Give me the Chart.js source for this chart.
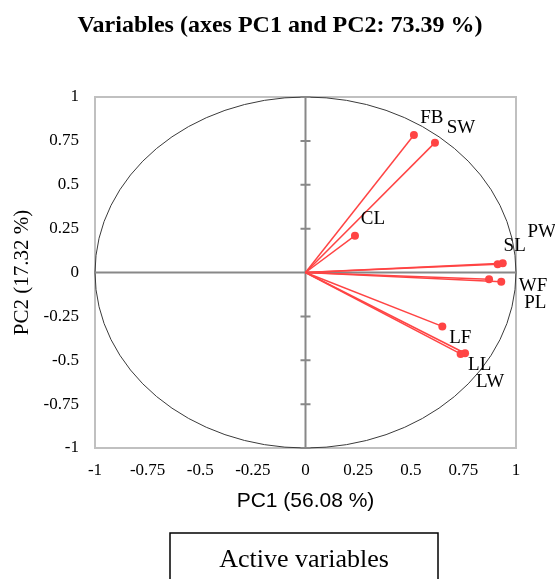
<!DOCTYPE html>
<html>
<head>
<meta charset="utf-8">
<title>Variables (axes PC1 and PC2)</title>
<script src="https://cdn.jsdelivr.net/npm/chart.js@4.4.0/dist/chart.umd.min.js"></script>
<style>
    html, body { margin: 0; padding: 0; background: #fff; }
    #wrap { width: 555px; height: 579px; }
</style>
</head>
<body>
<div id="wrap"><canvas id="pcaChart" width="555" height="579"></canvas></div>
<script>
const varNames = ['FB', 'SW', 'CL', 'SL', 'PW', 'WF', 'PL', 'LF', 'LL', 'LW'];
const pc1 = [0.515, 0.615, 0.235, 0.913, 0.937, 0.872, 0.930, 0.650, 0.737, 0.758];
const pc2 = [0.783, 0.740, 0.210, 0.047, 0.052, -0.039, -0.052, -0.307, -0.464, -0.460];
const tickValues = [-1, -0.75, -0.5, -0.25, 0, 0.25, 0.5, 0.75, 1];
const tickLabels = ['-1', '-0.75', '-0.5', '-0.25', '0', '0.25', '0.5', '0.75', '1'];
const chartTitle = 'Variables (axes PC1 and PC2: 73.39 %)';
const xTitle = 'PC1 (56.08 %)';
const yTitle = 'PC2 (17.32 %)';
const legendLabel = 'Active variables';

const RED = 'rgb(255, 68, 68)';
const SERIF = "'Liberation Serif', 'Times New Roman', serif";
const SANS = "'Liberation Sans', Arial, sans-serif";

// where each name sits relative to its point (px)
const labelOffsets = {
    FB: [18, -17], SW: [26, -15], CL: [18, -17], SL: [17, -18], PW: [39, -31],
    WF: [44, 7], PL: [34, 21], LF: [18, 12], LL: [19, 11], LW: [25, 29]
};

/**
 * Frame, unit circle and the two zero axes, drawn under the vectors
 */
const circlePlugin = {
    id: 'circlePlugin',
    beforeDatasetsDraw(chart) {
        const { ctx, chartArea: a, scales: { x, y } } = chart;
        const cx = x.getPixelForValue(0);
        const cy = y.getPixelForValue(0);
        ctx.save();

        ctx.strokeStyle = '#c0c0c0';
        ctx.lineWidth = 2;
        ctx.strokeRect(a.left, a.top, a.right - a.left, a.bottom - a.top);

        ctx.strokeStyle = '#3a3a3a';
        ctx.lineWidth = 1;
        ctx.beginPath();
        ctx.ellipse(cx, cy, x.getPixelForValue(1) - cx, cy - y.getPixelForValue(1), 0, 0, Math.PI * 2);
        ctx.stroke();

        ctx.strokeStyle = '#888888';
        ctx.lineWidth = 2;
        ctx.beginPath();
        ctx.moveTo(a.left, cy);
        ctx.lineTo(a.right, cy);
        ctx.moveTo(cx, a.top);
        ctx.lineTo(cx, a.bottom);
        tickValues.forEach(v => {
            const ty = y.getPixelForValue(v);
            ctx.moveTo(cx - 5, ty);
            ctx.lineTo(cx + 5, ty);
        });
        ctx.stroke();
        ctx.restore();
    },
    afterDatasetsDraw(chart) {
        const { ctx, scales: { x, y } } = chart;
        ctx.save();
        ctx.fillStyle = '#000';
        ctx.font = '19px ' + SERIF;
        ctx.textAlign = 'center';
        ctx.textBaseline = 'middle';
        varNames.forEach((name, i) => {
            const off = labelOffsets[name];
            ctx.fillText(name, x.getPixelForValue(pc1[i]) + off[0], y.getPixelForValue(pc2[i]) + off[1]);
        });
        ctx.restore();
    },
    afterDraw(chart) {
        const ctx = chart.ctx;
        ctx.save();
        ctx.fillStyle = '#000';
        ctx.textAlign = 'center';
        ctx.textBaseline = 'middle';

        // title
        ctx.font = 'bold 24px ' + SERIF;
        ctx.fillText(chartTitle, 280, 26);

        // legend box under the axis title
        ctx.strokeStyle = '#000';
        ctx.lineWidth = 1.5;
        ctx.strokeRect(170, 533, 268, 60);
        ctx.font = '26px ' + SERIF;
        ctx.fillText(legendLabel, 304, 560);
        ctx.restore();
    }
};

const datasets = varNames.map((name, i) => ({
    label: name,
    data: [{ x: 0, y: 0 }, { x: pc1[i], y: pc2[i] }],
    showLine: true,
    borderColor: RED,
    borderWidth: 1.5,
    pointRadius: [0, 4],
    pointHoverRadius: [0, 4],
    pointBackgroundColor: RED,
    pointBorderWidth: 0
}));

function setTicks(scale) {
    scale.ticks = tickValues.map(v => ({ value: v }));
}

new Chart(document.getElementById('pcaChart'), {
    type: 'scatter',
    data: { datasets: datasets },
    options: {
        responsive: false,
        animation: false,
        devicePixelRatio: 1,
        layout: { padding: { left: 0, right: 39, top: 97, bottom: 56 } },
        plugins: {
            legend: { display: false },
            tooltip: { enabled: false },
            title: { display: false }
        },
        scales: {
            x: {
                type: 'linear',
                min: -1,
                max: 1,
                afterBuildTicks: setTicks,
                afterFit: s => { s.height = 75; },
                grid: { display: false, drawTicks: false },
                border: { display: false },
                ticks: {
                    callback: (v, i) => tickLabels[i],
                    color: '#000',
                    font: { family: SERIF, size: 17 },
                    padding: 12,
                    maxRotation: 0,
                    autoSkip: false
                },
                title: {
                    display: true,
                    text: xTitle,
                    color: '#000',
                    font: { family: SANS, size: 21 },
                    padding: { top: 0, bottom: 9 }
                }
            },
            y: {
                type: 'linear',
                min: -1,
                max: 1,
                afterBuildTicks: setTicks,
                afterFit: s => { s.width = 95; },
                grid: { display: false, drawTicks: false },
                border: { display: false },
                ticks: {
                    callback: (v, i) => tickLabels[i],
                    color: '#000',
                    font: { family: SERIF, size: 17 },
                    padding: 16,
                    autoSkip: false
                },
                title: {
                    display: true,
                    text: yTitle,
                    color: '#000',
                    font: { family: SERIF, size: 21 },
                    padding: { top: 10, bottom: 0 }
                }
            }
        }
    },
    plugins: [circlePlugin]
});
</script>
</body>
</html>
